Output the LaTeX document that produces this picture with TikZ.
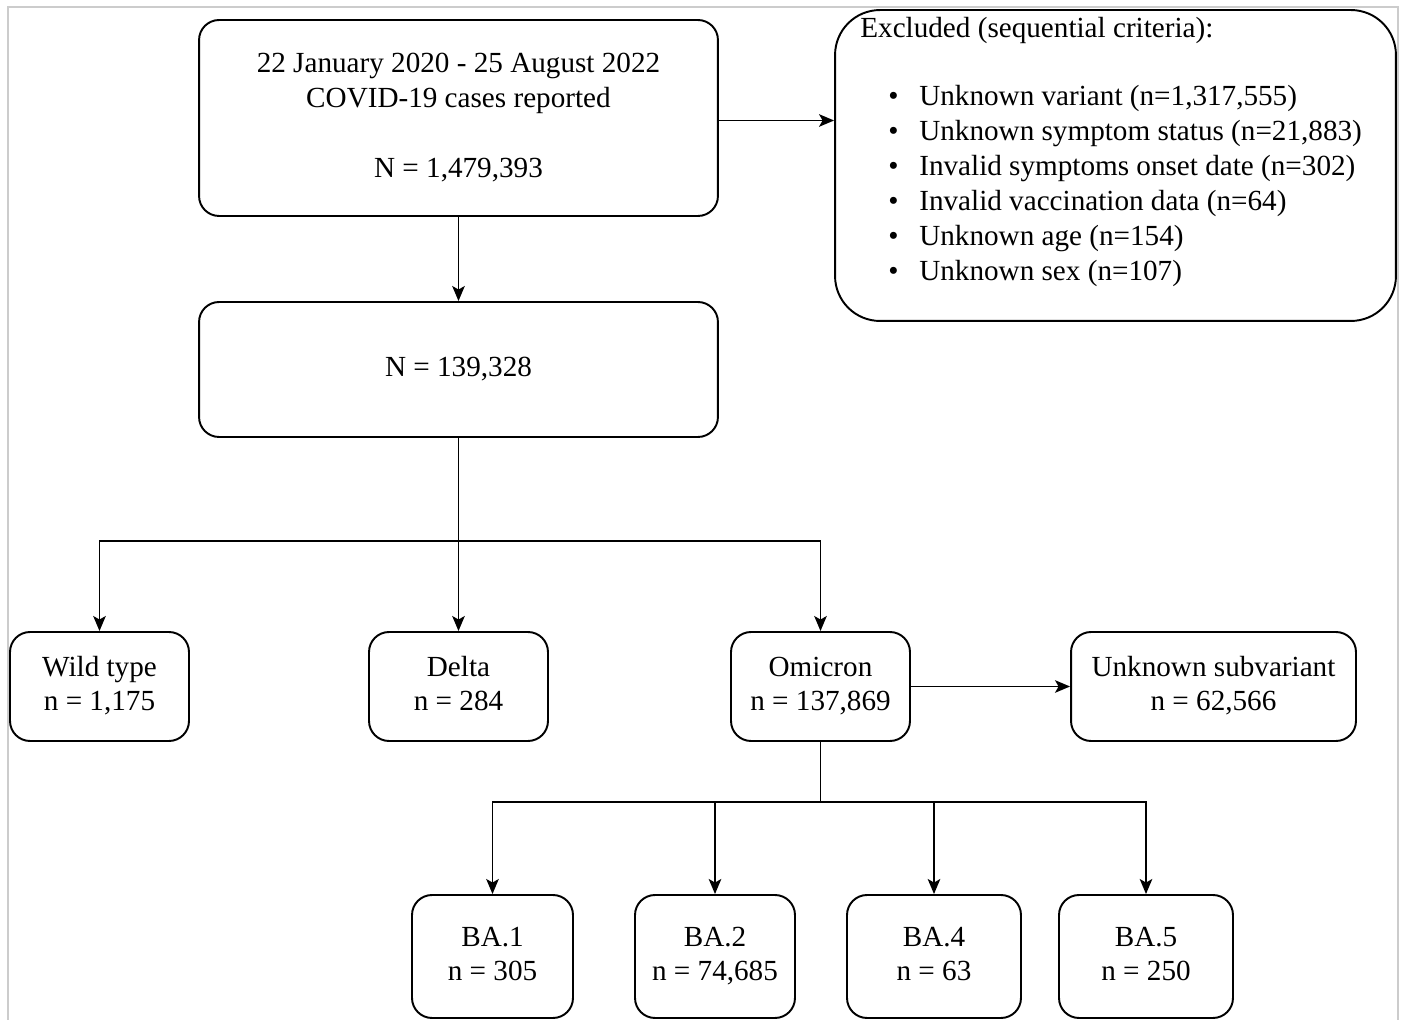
\documentclass[tikz,border=0pt]{standalone}
\usepackage{fontspec}
\setmainfont{Liberation Serif}
\usetikzlibrary{arrows.meta}

\begin{document}
\begin{tikzpicture}[x=0.02cm, y=-0.02cm,
        box/.style={draw, line width=1.1pt, rounded corners=0.4cm, align=center, inner sep=0pt, font=\fontsize{16.6}{19.9}\selectfont},
        arrow/.style={line width=1.1pt, -{Stealth[length=0.3cm, width=0.25cm, inset=0.07cm]}}]
        \useasboundingbox (0,0) rectangle (1401,1020);
        \draw[line width=0.04cm, black!20] (8,1020) -- (8,7) -- (1397.5,7) -- (1397.5,1020);

        \node (cases) at (458.5,118)[box, minimum width=10.38cm, minimum height=3.92cm] {22 January 2020 - 25 August 2022\\COVID-19 cases reported\\[0.7cm]N = 1,479,393};

        \node (excl) at (1115.5,165.5)[box, rounded corners=0.9cm, minimum width=11.22cm, minimum height=6.22cm] {};
        \node (excllist) at (860,17)[anchor=north west, align=left, inner sep=0pt, font=\fontsize{16.6}{19.9}\selectfont] {Excluded (sequential criteria):\\[0.66cm]
            \makebox[1.18cm][l]{\hspace{0.56cm}\textbullet}Unknown variant (n=1,317,555)\\
            \makebox[1.18cm][l]{\hspace{0.56cm}\textbullet}Unknown symptom status (n=21,883)\\
            \makebox[1.18cm][l]{\hspace{0.56cm}\textbullet}Invalid symptoms onset date (n=302)\\
            \makebox[1.18cm][l]{\hspace{0.56cm}\textbullet}Invalid vaccination data (n=64)\\
            \makebox[1.18cm][l]{\hspace{0.56cm}\textbullet}Unknown age (n=154)\\
            \makebox[1.18cm][l]{\hspace{0.56cm}\textbullet}Unknown sex (n=107)};

        \node (pop) at (458.5,369.5)[box, minimum width=10.38cm, minimum height=2.7cm] {N = 139,328};

        \draw[arrow] (cases) -- (pop);
        \draw[arrow] ([yshift=-0.05cm]cases.east) -- ([yshift=-0.05cm]cases.east -| excl.west);

        \coordinate (split) at (458.5,541);
        \draw[line width=1.1pt] (pop) -- (split);
        \foreach \name/\x/\txt in {wild/99.5/{Wild type\\n = 1,175}, delta/458.5/{Delta\\n = 284}, omicron/820.5/{Omicron\\n = 137,869}} {
            \node (\name) at (\x,686.5)[box, minimum width=3.58cm, minimum height=2.18cm] {\leavevmode\strut\txt\strut};
            \draw[arrow] (split) -| (\name);
        }

        \node (unknown) at (1213.5,686.5)[box, minimum width=5.7cm, minimum height=2.18cm] {\leavevmode\strut Unknown subvariant\\n = 62,566\strut};
        \draw[arrow] (omicron) -- (unknown);

        \coordinate (subsplit) at (820.5,802);
        \draw[line width=1.1pt] (omicron) -- (subsplit);
        \foreach \name/\x/\w/\txt in {ba1/492.5/3.22/{BA.1\\n = 305}, ba2/715/3.2/{BA.2\\n = 74,685}, ba4/934/3.48/{BA.4\\n = 63}, ba5/1146/3.48/{BA.5\\n = 250}} {
            \node (\name) at (\x,956.5)[box, minimum width=\w cm, minimum height=2.46cm] {\leavevmode\strut\txt\strut};
            \draw[arrow] (subsplit) -| (\name);
        }
\end{tikzpicture}
\end{document}
